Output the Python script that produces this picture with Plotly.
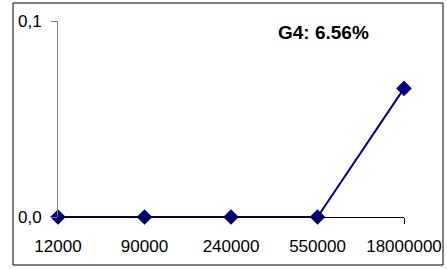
import plotly.graph_objects as go

categories = ["12000", "90000", "240000", "550000", "18000000"]
values = [0.0, 0.0, 0.0, 0.0, 0.0656]
y_tick_vals = [0.0, 0.1]
y_tick_text = ["0,0", "0,1"]
title_text = "G4: 6.56%"

W, H = 447, 269
L, R, T, B = 58, 404, 21, 217  # plot area in pixels
pw, ph = R - L, B - T

def px_x(x):
    return (x - L) / pw

def px_y(y):
    return (B - y) / ph

font = "Liberation Sans, Arial, sans-serif"

fig = go.Figure()
fig.add_trace(go.Scatter(
    x=list(range(len(categories))), y=values,
    mode="lines+markers",
    line=dict(color="#000080", width=2),
    marker=dict(symbol="diamond", size=12, color="#000080"),
    cliponaxis=False,
    showlegend=False,
))

fig.update_layout(
    width=W, height=H,
    margin=dict(l=L, r=W - R, t=T, b=H - B, pad=0, autoexpand=False),
    paper_bgcolor="white", plot_bgcolor="white",
    font=dict(family=font, size=17, color="black"),
    xaxis=dict(
        range=[0, len(categories) - 1],
        tickvals=list(range(len(categories))), ticktext=categories,
        showgrid=False, zeroline=False, automargin=False,
        showline=True, linecolor="black", linewidth=1,
        ticks="outside", ticklen=6, tickcolor="black", tickwidth=1,
        ticklabelstandoff=8,
        tickfont=dict(size=17),
        fixedrange=True,
    ),
    yaxis=dict(
        range=[0, 0.1],
        tickvals=y_tick_vals, ticktext=y_tick_text,
        showgrid=False, zeroline=False, automargin=False,
        showline=True, linecolor="#808080", linewidth=1,
        ticks="outside", ticklen=6, tickcolor="#808080", tickwidth=1,
        ticklabelstandoff=6,
        tickfont=dict(size=17),
        fixedrange=True,
    ),
    shapes=[dict(
        type="rect", xref="paper", yref="paper",
        x0=px_x(13), x1=px_x(443), y0=px_y(265), y1=px_y(3),
        line=dict(color="black", width=1), fillcolor="rgba(0,0,0,0)",
        layer="below",
    )],
    annotations=[dict(
        text=f"<b>{title_text}</b>", xref="paper", yref="paper",
        x=px_x(323), y=px_y(32), xanchor="center", yanchor="middle",
        showarrow=False, font=dict(size=19, family=font, color="black"),
    )],
)

fig.write_html(
    "out.html",
    config={"displayModeBar": False},
    post_script="document.body.style.margin='0px';document.body.style.overflow='hidden';",
)
